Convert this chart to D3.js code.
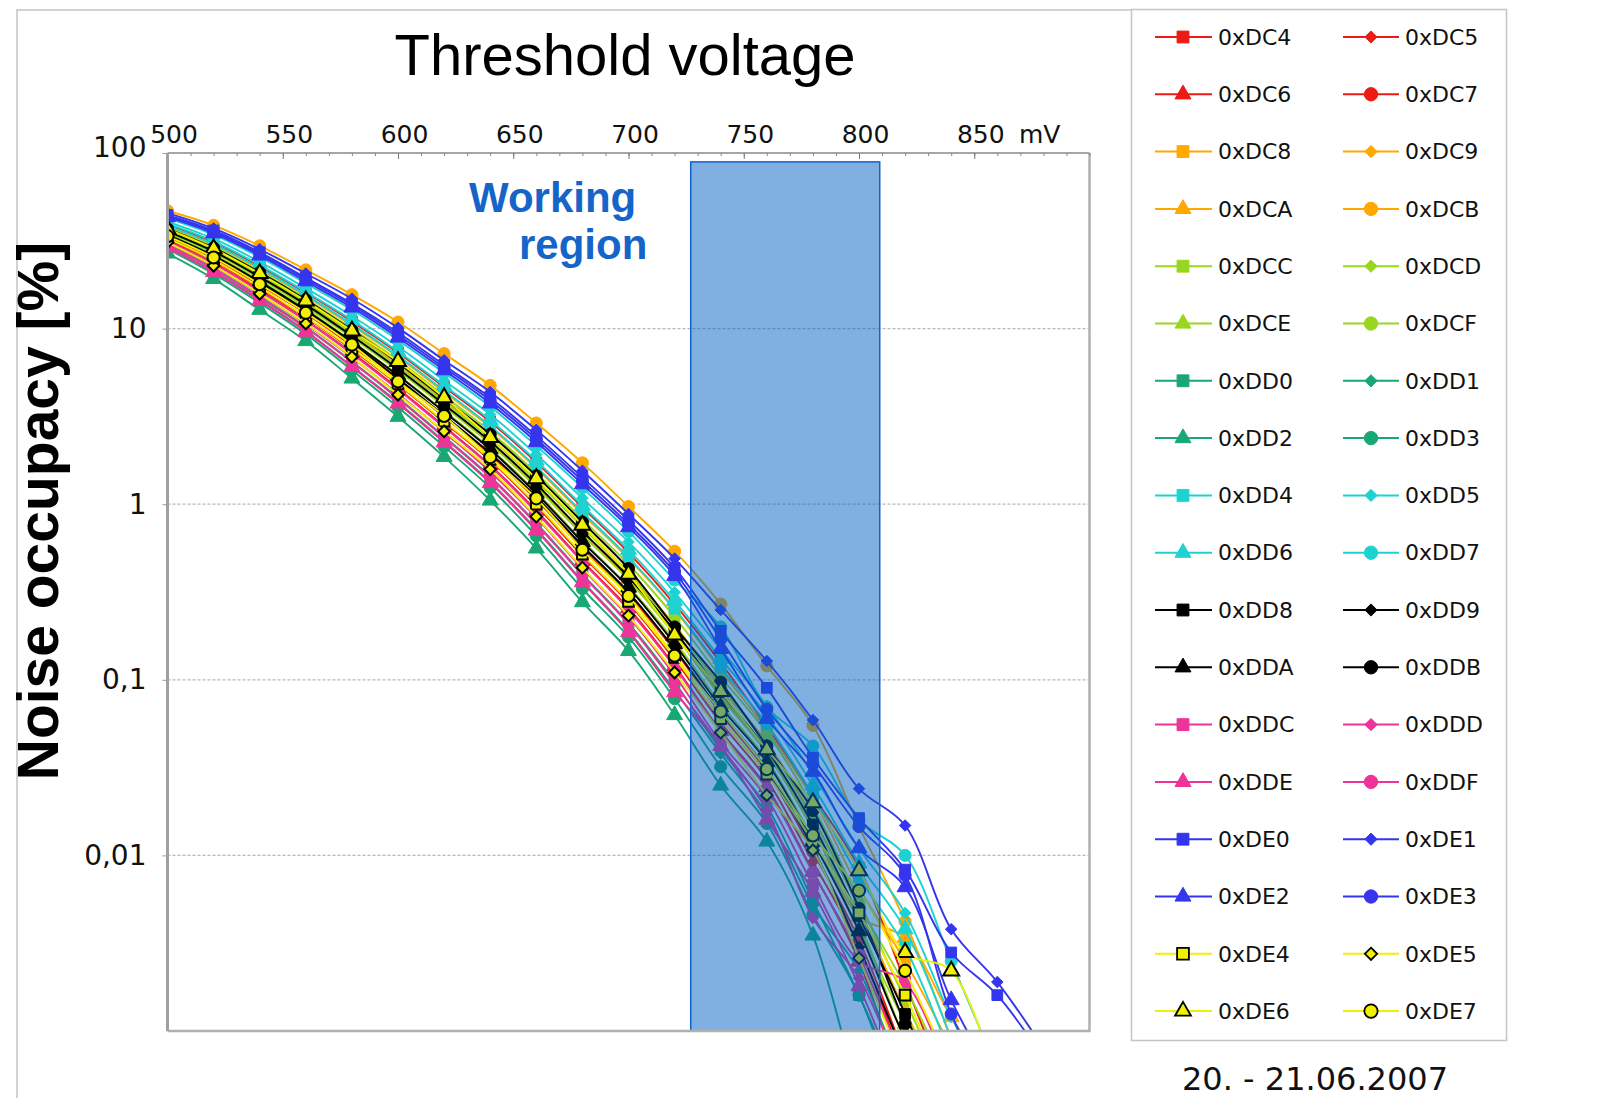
<!DOCTYPE html>
<html>
<head>
<meta charset="utf-8">
<script src="https://cdn.jsdelivr.net/npm/d3@7"></script>
<style>
  body { margin: 0; background: #fff; }
  svg { display: block; }
</style>
</head>
<body>
<svg id="chart" width="1622" height="1098"></svg>
<script>
// threshold voltage steps (mV)
const xValues = [500, 520, 540, 560, 580, 600, 620, 640, 660, 680, 700, 720, 740, 760, 780, 800, 820, 840, 860, 880];

const seriesNames = [
  "0xDC4", "0xDC5", "0xDC6", "0xDC7", "0xDC8", "0xDC9", "0xDCA", "0xDCB",
  "0xDCC", "0xDCD", "0xDCE", "0xDCF", "0xDD0", "0xDD1", "0xDD2", "0xDD3",
  "0xDD4", "0xDD5", "0xDD6", "0xDD7", "0xDD8", "0xDD9", "0xDDA", "0xDDB",
  "0xDDC", "0xDDD", "0xDDE", "0xDDF", "0xDE0", "0xDE1", "0xDE2", "0xDE3",
  "0xDE4", "0xDE5", "0xDE6", "0xDE7"
];

// noise occupancy in %, one array per chip
const seriesValues = [
  [39.0, 31.0, 22.6, 16.0, 11.0, 7.3, 4.65, 2.95, 1.73, 0.96, 0.53, 0.27, 0.125, 0.054, 0.022, 0.0085, 0.0019, 0.0004],      // DC4
  [32.4, 24.3, 17.0, 11.6, 7.6, 4.8, 2.93, 1.78, 0.98, 0.51, 0.275, 0.13, 0.057, 0.027, 0.0092, 0.003, 0.0006],             // DC5
  [31.8, 23.6, 16.5, 11.2, 7.3, 4.56, 2.78, 1.67, 0.92, 0.475, 0.256, 0.12, 0.051, 0.0245, 0.0081, 0.0025, 0.0004],         // DC6
  [33.3, 25.2, 17.7, 12.2, 8.0, 5.1, 3.15, 1.9, 1.06, 0.56, 0.305, 0.147, 0.064, 0.03, 0.0105, 0.0033, 0.0007],             // DC7
  [38.0, 30.0, 21.8, 15.3, 10.4, 6.9, 4.35, 2.74, 1.6, 0.88, 0.49, 0.25, 0.113, 0.052, 0.021, 0.0065, 0.0025, 0.0008],       // DC8
  [36.5, 28.2, 20.3, 14.1, 9.5, 6.2, 3.88, 2.41, 1.38, 0.75, 0.41, 0.205, 0.092, 0.044, 0.0165, 0.005, 0.0013, 0.0004],     // DC9
  [35.5, 27.2, 19.5, 13.5, 9.0, 5.8, 3.63, 2.24, 1.27, 0.68, 0.376, 0.184, 0.082, 0.039, 0.0143, 0.0045, 0.0034, 0.0012, 0.0005], // DCA
  [46.9, 38.7, 29.6, 21.6, 15.6, 10.9, 7.2, 4.75, 2.9, 1.72, 0.97, 0.54, 0.27, 0.12, 0.055, 0.0146, 0.0042, 0.0009],        // DCB
  [37.5, 29.2, 21.2, 14.8, 10.0, 6.6, 4.15, 2.59, 1.5, 0.82, 0.455, 0.228, 0.104, 0.05, 0.019, 0.0055, 0.0015, 0.0004],     // DCC
  [35.2, 27.0, 19.3, 13.3, 8.9, 5.75, 3.6, 2.2, 1.25, 0.67, 0.37, 0.18, 0.08, 0.038, 0.014, 0.0042, 0.0009, 0.0003],        // DCD
  [34.5, 26.3, 18.7, 12.9, 8.5, 5.45, 3.4, 2.08, 1.17, 0.62, 0.34, 0.166, 0.073, 0.035, 0.0124, 0.0038, 0.0011, 0.0003],    // DCE
  [36.2, 28.0, 20.1, 14.0, 9.4, 6.1, 3.83, 2.37, 1.36, 0.74, 0.4, 0.2, 0.09, 0.043, 0.016, 0.0052, 0.0018, 0.0005],         // DCF
  [30.1, 22.0, 15.2, 10.2, 6.5, 4.04, 2.43, 1.44, 0.78, 0.4, 0.21, 0.097, 0.04, 0.019, 0.0055, 0.0016, 0.0004],             // DD0
  [29.2, 21.2, 14.6, 9.7, 6.1, 3.8, 2.28, 1.34, 0.72, 0.365, 0.19, 0.087, 0.038, 0.0171, 0.0052, 0.0022, 0.0005],           // DD1
  [26.8, 19.2, 12.8, 8.5, 5.2, 3.15, 1.86, 1.05, 0.56, 0.277, 0.146, 0.063, 0.025, 0.012, 0.0035, 0.0004],                  // DD2
  [28.4, 20.5, 14.0, 9.3, 5.8, 3.57, 2.13, 1.24, 0.66, 0.33, 0.175, 0.078, 0.032, 0.0152, 0.0046, 0.0016, 0.0003],          // DD3
  [38.5, 30.3, 22.1, 15.5, 10.6, 7.0, 4.44, 2.79, 1.63, 0.9, 0.5, 0.254, 0.117, 0.056, 0.022, 0.0075, 0.003, 0.0007],       // DD4
  [40.7, 32.5, 24.0, 17.0, 11.8, 7.9, 5.07, 3.24, 1.92, 1.08, 0.61, 0.315, 0.149, 0.071, 0.029, 0.011, 0.0047, 0.0012, 0.0004], // DD5
  [39.6, 31.4, 23.0, 16.2, 11.2, 7.4, 4.74, 3.01, 1.77, 0.98, 0.55, 0.282, 0.132, 0.063, 0.025, 0.009, 0.0038, 0.0009],     // DD6
  [42.4, 34.2, 25.5, 18.1, 12.8, 8.6, 5.6, 3.6, 2.15, 1.24, 0.7, 0.37, 0.2, 0.07, 0.042, 0.016, 0.01, 0.0025, 0.0006],      // DD7
  [35.8, 27.5, 19.7, 13.7, 9.1, 5.9, 3.7, 2.28, 1.3, 0.7, 0.385, 0.19, 0.085, 0.04, 0.015, 0.0045, 0.00125, 0.0003],        // DD8
  [33.8, 25.6, 18.1, 12.4, 8.2, 5.2, 3.2, 1.95, 1.1, 0.58, 0.315, 0.15, 0.066, 0.031, 0.011, 0.003, 0.0007],                // DD9
  [34.2, 26.0, 18.5, 12.7, 8.4, 5.4, 3.35, 2.05, 1.15, 0.61, 0.335, 0.16, 0.07, 0.034, 0.012, 0.0037, 0.0009, 0.0003],      // DDA
  [37.0, 28.8, 20.9, 14.6, 9.8, 6.4, 4.0, 2.5, 1.45, 0.79, 0.43, 0.2, 0.097, 0.042, 0.018, 0.005, 0.0011, 0.0003],          // DDB
  [30.8, 22.6, 15.7, 10.6, 6.85, 4.25, 2.57, 1.53, 0.84, 0.43, 0.228, 0.106, 0.044, 0.0212, 0.0068, 0.0025, 0.0019, 0.0005], // DDC
  [29.8, 21.8, 15.0, 10.1, 6.45, 4.0, 2.4, 1.42, 0.77, 0.395, 0.207, 0.095, 0.042, 0.018, 0.0044, 0.002, 0.0005],           // DDD
  [29.0, 21.0, 14.4, 9.6, 6.05, 3.75, 2.25, 1.32, 0.71, 0.36, 0.187, 0.085, 0.042, 0.016, 0.0062, 0.0018, 0.0004],          // DDE
  [31.5, 23.4, 16.3, 11.1, 7.2, 4.5, 2.74, 1.65, 0.9, 0.47, 0.25, 0.118, 0.05, 0.024, 0.008, 0.0027, 0.0006],               // DDF
  [44.3, 36.2, 27.2, 19.5, 13.9, 9.5, 6.19, 4.04, 2.45, 1.42, 0.81, 0.434, 0.19, 0.09, 0.036, 0.0163, 0.0083, 0.0028, 0.0016, 0.0007], // DE0
  [45.5, 37.2, 28.3, 20.6, 14.8, 10.1, 6.6, 4.35, 2.65, 1.55, 0.88, 0.49, 0.25, 0.128, 0.059, 0.024, 0.0148, 0.0038, 0.0019, 0.0008], // DE1
  [43.1, 34.9, 26.1, 18.6, 13.2, 8.9, 5.8, 3.75, 2.26, 1.3, 0.74, 0.39, 0.15, 0.06, 0.03, 0.011, 0.0066, 0.0015, 0.0005],   // DE2
  [43.8, 35.6, 26.7, 19.1, 13.6, 9.2, 6.0, 3.9, 2.35, 1.36, 0.77, 0.41, 0.17, 0.068, 0.033, 0.0146, 0.0077, 0.00125, 0.0004], // DE3
  [32.7, 24.5, 17.2, 11.7, 7.7, 4.85, 2.97, 1.8, 1.0, 0.52, 0.28, 0.134, 0.06, 0.029, 0.012, 0.0047, 0.0016, 0.0004],       // DE4
  [31.0, 22.8, 15.8, 10.7, 6.9, 4.2, 2.6, 1.58, 0.85, 0.435, 0.232, 0.11, 0.05, 0.022, 0.0107, 0.0026, 0.0006],             // DE5
  [36.8, 28.5, 20.6, 14.4, 9.7, 6.5, 4.05, 2.4, 1.4, 0.76, 0.4, 0.18, 0.086, 0.04, 0.02, 0.0082, 0.0028, 0.0022, 0.0005],   // DE6
  [33.6, 25.4, 17.9, 12.3, 8.1, 5.0, 3.18, 1.85, 1.08, 0.55, 0.3, 0.137, 0.066, 0.031, 0.013, 0.0063, 0.0022, 0.0006]       // DE7
];

// one colour per group of four chips
const groupColors = ["#ec1c14", "#ffa800", "#99d61e", "#19a874", "#1fd2d2", "#000000", "#ee3399", "#3535ee", "#f0f000"];
const markerShapes = ["square", "diamond", "triangle", "circle"];

const xTickValues = [500, 550, 600, 650, 700, 750, 800, 850];
const yTickValues = [100, 10, 1, 0.1, 0.01];
const yTickLabels = ["100", "10", "1", "0,1", "0,01"];

const workingRegion = [727, 809];   // mV
const workingRegionTop = 89;        // %

const titleText = "Threshold voltage";
const yLabelText = "Noise occupacy [%]";
const dateText = "20. - 21.06.2007";

// Declare the chart dimensions.
const width = 1622;
const height = 1098;
const plot = { left: 167.5, right: 1089.5, top: 153, bottom: 1031 };

const svg = d3.select("#chart");
svg.append("rect").attr("width", width).attr("height", height).attr("fill", "#fff");

const x = d3.scaleLinear().domain([500, 900]).range([plot.left, plot.right]);
const y = d3.scaleLog().domain([0.001, 100]).range([plot.bottom, plot.top]);

const symbolFor = {
  square: { type: d3.symbolSquare, size: 115 },
  diamond: { type: d3.symbolDiamond2, size: 85 },
  triangle: { type: d3.symbolTriangle, size: 110 },
  circle: { type: d3.symbolCircle, size: 115 }
};

function seriesStyle(i) {
  const g = Math.floor(i / 4);
  const color = groupColors[g];
  const outlined = g === 8;
  return {
    color: color,
    shape: markerShapes[i % 4],
    fill: color,
    stroke: outlined ? "#000" : color
  };
}

// outer frame of the slide
svg.append("path")
  .attr("d", "M17,1098 V10 H1131")
  .attr("fill", "none")
  .attr("stroke", "#c4c4c4")
  .attr("stroke-width", 1.5);

// title
svg.append("text")
  .attr("x", 625)
  .attr("y", 75)
  .attr("text-anchor", "middle")
  .attr("font-family", "'Liberation Sans', Arial, sans-serif")
  .attr("font-size", 58)
  .attr("fill", "#000")
  .text(titleText);

// y label
svg.append("text")
  .attr("transform", "translate(58,511) rotate(-90)")
  .attr("text-anchor", "middle")
  .attr("font-family", "'Liberation Sans', Arial, sans-serif")
  .attr("font-weight", "bold")
  .attr("font-size", 57)
  .attr("fill", "#000")
  .text(yLabelText);

// clip for the plot area
svg.append("defs").append("clipPath").attr("id", "plotClip")
  .append("rect")
  .attr("x", plot.left)
  .attr("y", plot.top)
  .attr("width", plot.right - plot.left)
  .attr("height", plot.bottom - plot.top);

// gridlines
svg.append("g")
  .selectAll("line")
  .data(yTickValues.slice(1))
  .join("line")
  .attr("x1", plot.left)
  .attr("x2", plot.right)
  .attr("y1", d => y(d))
  .attr("y2", d => y(d))
  .attr("stroke", "#b8b8b8")
  .attr("stroke-width", 1.2)
  .attr("stroke-dasharray", "3,2");

// series
const line = d3.line()
  .defined(d => d[1] != null)
  .x(d => x(d[0]))
  .y(d => y(d[1]))
  .curve(d3.curveCatmullRom.alpha(0.5));

const seriesLayer = svg.append("g").attr("clip-path", "url(#plotClip)");

seriesValues.forEach((values, i) => {
  const st = seriesStyle(i);
  const pts = values.map((v, j) => [xValues[j], v]);
  const g = seriesLayer.append("g");
  g.append("path")
    .datum(pts)
    .attr("fill", "none")
    .attr("stroke", st.color)
    .attr("stroke-width", 1.9)
    .attr("stroke-linejoin", "round")
    .attr("d", line);
  const sym = symbolFor[st.shape];
  g.selectAll("path.mark")
    .data(pts.filter(d => d[1] >= 0.001))
    .join("path")
    .attr("class", "mark")
    .attr("transform", d => `translate(${x(d[0])},${y(d[1])})`)
    .attr("d", d3.symbol().type(sym.type).size(sym.size))
    .attr("fill", st.fill)
    .attr("stroke", st.stroke)
    .attr("stroke-width", st.stroke === "#000" ? 2 : 1);
});

// working region overlay
svg.append("rect")
  .attr("x", x(workingRegion[0]))
  .attr("y", y(workingRegionTop))
  .attr("width", x(workingRegion[1]) - x(workingRegion[0]))
  .attr("height", y(0.001) - y(workingRegionTop))
  .attr("fill", "rgb(0,98,196)")
  .attr("fill-opacity", 0.5)
  .attr("stroke", "#1560d0")
  .attr("stroke-width", 1.5);

svg.append("text")
  .attr("x", 469)
  .attr("y", 212)
  .attr("font-family", "'Liberation Sans', Arial, sans-serif")
  .attr("font-weight", "bold")
  .attr("font-size", 42)
  .attr("fill", "#1565c9")
  .text("Working");

svg.append("text")
  .attr("x", 519)
  .attr("y", 259)
  .attr("font-family", "'Liberation Sans', Arial, sans-serif")
  .attr("font-weight", "bold")
  .attr("font-size", 42)
  .attr("fill", "#1565c9")
  .text("region");

// plot borders (right / bottom)
svg.append("path")
  .attr("d", `M${plot.right},${plot.top} V${plot.bottom} H${plot.left}`)
  .attr("fill", "none")
  .attr("stroke", "#b0b0b0")
  .attr("stroke-width", 2.5);

// top axis: minor ticks
svg.append("g")
  .attr("transform", `translate(0,${plot.top})`)
  .call(d3.axisTop(x).tickValues(d3.range(500, 901, 10)).tickSize(-3).tickFormat(""))
  .call(g => g.select(".domain").remove())
  .call(g => g.selectAll("line").attr("stroke", "#888"));

// top axis: labels
svg.append("g")
  .attr("transform", `translate(0,${plot.top})`)
  .call(d3.axisTop(x).tickValues(xTickValues).tickSize(-6).tickPadding(10))
  .call(g => g.select(".domain").remove())
  .call(g => g.selectAll("line").attr("stroke", "#777"))
  .call(g => g.selectAll("text")
    .attr("dx", 6)
    .attr("font-family", "'DejaVu Sans', Verdana, sans-serif")
    .attr("font-size", 25)
    .attr("fill", "#111"));

svg.append("line")
  .attr("x1", plot.left)
  .attr("x2", plot.right)
  .attr("y1", plot.top)
  .attr("y2", plot.top)
  .attr("stroke", "#888")
  .attr("stroke-width", 1.5);

svg.append("text")
  .attr("x", 1019)
  .attr("y", plot.top - 10)
  .attr("font-family", "'DejaVu Sans', Verdana, sans-serif")
  .attr("font-size", 25)
  .attr("fill", "#111")
  .text("mV");

// left axis
svg.append("g")
  .attr("transform", `translate(${plot.left},0)`)
  .call(d3.axisLeft(y).tickValues(yTickValues).tickFormat((d, i) => yTickLabels[i]).tickSize(5).tickPadding(16))
  .call(g => g.select(".domain").remove())
  .call(g => g.selectAll("line").attr("stroke", "#999"))
  .call(g => g.selectAll("text")
    .attr("font-family", "'DejaVu Sans', Verdana, sans-serif")
    .attr("font-size", 28)
    .attr("fill", "#111"))
  .call(g => g.selectAll(".tick").filter(d => d === 100).select("text").attr("y", -5));

svg.append("line")
  .attr("x1", plot.left)
  .attr("x2", plot.left)
  .attr("y1", plot.top)
  .attr("y2", plot.bottom)
  .attr("stroke", "#a0a0a0")
  .attr("stroke-width", 3);

// legend
svg.append("rect")
  .attr("x", 1131.5)
  .attr("y", 9.5)
  .attr("width", 375)
  .attr("height", 1031)
  .attr("fill", "none")
  .attr("stroke", "#c4c4c4")
  .attr("stroke-width", 1.5);

const legendCols = [
  { x1: 1155, x2: 1212, mx: 1183, tx: 1218 },
  { x1: 1343, x2: 1399, mx: 1371, tx: 1405 }
];
const legendSize = { square: 140, diamond: 95, triangle: 110, circle: 140 };
const legend = svg.append("g");
seriesNames.forEach((name, i) => {
  const st = seriesStyle(i);
  const col = legendCols[i % 2];
  const ry = 37 + Math.floor(i / 2) * 57.3;
  const item = legend.append("g");
  item.append("line")
    .attr("x1", col.x1)
    .attr("x2", col.x2)
    .attr("y1", ry)
    .attr("y2", ry)
    .attr("stroke", st.color)
    .attr("stroke-width", 2);
  const sym = symbolFor[st.shape];
  item.append("path")
    .attr("transform", `translate(${col.mx},${ry})`)
    .attr("d", d3.symbol().type(sym.type).size(legendSize[st.shape]))
    .attr("fill", st.fill)
    .attr("stroke", st.stroke)
    .attr("stroke-width", st.stroke === "#000" ? 1.8 : 1);
  item.append("text")
    .attr("x", col.tx)
    .attr("y", ry)
    .attr("dy", "0.35em")
    .attr("font-family", "'DejaVu Sans', Verdana, sans-serif")
    .attr("font-size", 22)
    .attr("fill", "#111")
    .text(name);
});

// date
svg.append("text")
  .attr("x", 1315)
  .attr("y", 1090)
  .attr("text-anchor", "middle")
  .attr("font-family", "'DejaVu Sans', Verdana, sans-serif")
  .attr("font-size", 32)
  .attr("fill", "#111")
  .text(dateText);
</script>
</body>
</html>
